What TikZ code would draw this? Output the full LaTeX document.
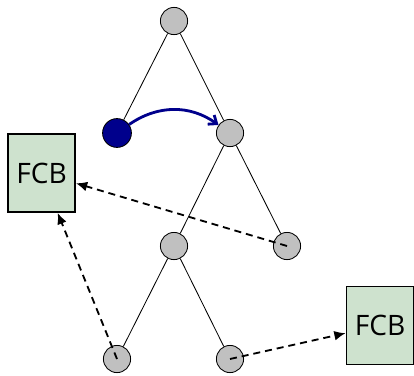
\documentclass[tikz,border=0pt]{standalone}
\usepackage{fontspec}
\setmainfont{Open Sans}
\usetikzlibrary{arrows.meta}
\definecolor{nodegray}{RGB}{192,192,192}
\definecolor{activeblue}{RGB}{0,0,140}
\definecolor{fcbgreen}{RGB}{206,226,206}

\begin{document}
\begin{tikzpicture}[x=0.025cm, y=-0.025cm]
    % Define styles
    \tikzstyle{vertex} = [circle, draw, fill=nodegray, minimum size=0.68cm, inner sep=0pt, line width=0.6pt]
    \tikzstyle{active} = [vertex, fill=activeblue, minimum size=0.72cm]
    \tikzstyle{fcb} = [rectangle, draw, fill=fcbgreen, minimum width=1.68cm, minimum height=1.95cm, line width=1.2pt, font=\fontsize{20}{24}\selectfont]
    \tikzstyle{edge} = [line width=0.6pt]
    \tikzstyle{ptr} = [line width=1.3pt, dash pattern=on 5pt off 3.5pt, -{Latex[length=8pt, width=7pt]}]
    \tikzstyle{move} = [line width=2pt, color=activeblue, -{Straight Barb[length=5pt, width=8pt]}]

    \useasboundingbox (0,0) rectangle (414,375);

    % Tree
    \node [vertex] (root) at (174,21) {};
    \node [active] (act) at (117,133) {};
    \node [vertex] (r1) at (230,133) {};
    \node [vertex] (r2) at (174,246) {};
    \node [vertex] (r3) at (287,246) {};
    \node [vertex] (r4) at (117,359) {};
    \node [vertex] (r5) at (230,359) {};

    \draw [edge] (root) -- (act);
    \draw [edge] (root) -- (r1);
    \draw [edge] (r1) -- (r2);
    \draw [edge] (r1) -- (r3);
    \draw [edge] (r2) -- (r4);
    \draw [edge] (r2) -- (r5);

    % Control blocks
    \node [fcb] (fcbL) at (41.5,173) {FCB};
    \node [fcb] (fcbR) at (380,325.5) {FCB};

    % Arrows
    \draw [move] (act) to [bend left=35] (r1);
    \draw [ptr] (r3.center) -- (fcbL);
    \draw [ptr] (r4.center) -- (fcbL);
    \draw [ptr] (r5.center) -- (fcbR);
\end{tikzpicture}
\end{document}
